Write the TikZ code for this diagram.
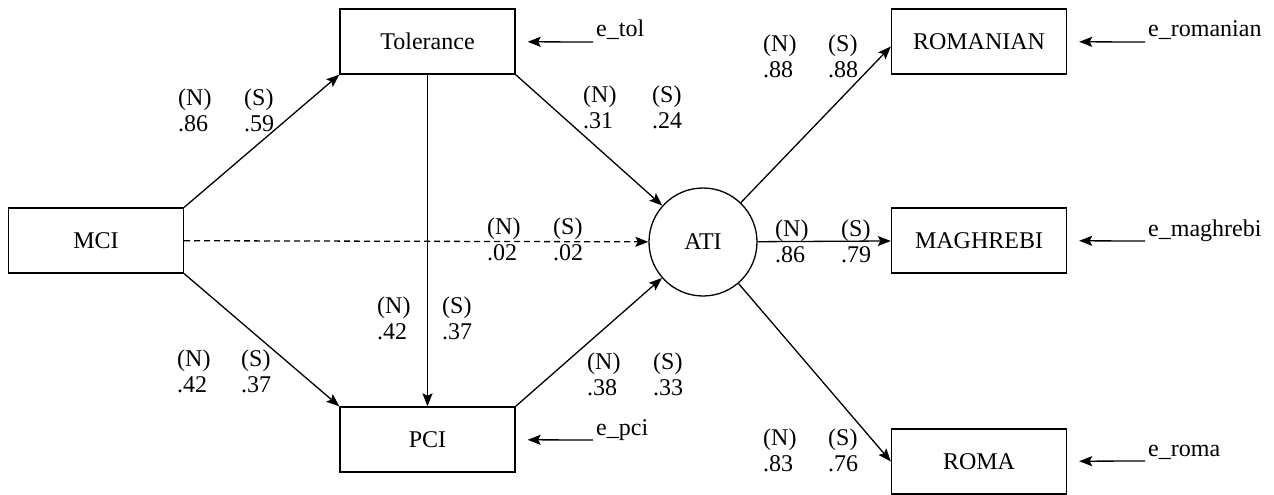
\documentclass[tikz,border=0pt]{standalone}
\usepackage{fontspec}
\setmainfont{Liberation Serif}
\newfontfamily\timesfont{Liberation Serif}
\usetikzlibrary{arrows.meta,calc}
\begin{document}
\begin{tikzpicture}[x=1pt,y=-1pt,
  txt/.style={font=\timesfont\fontsize{24}{26}\selectfont},
  box/.style={txt,draw,line width=1.3pt,minimum width=175pt,minimum height=65pt,inner sep=0pt},
  circ/.style={txt,draw,circle,line width=1.3pt,minimum size=108pt,inner sep=0pt},
  lbl/.style={txt,align=left,inner sep=0pt,anchor=west},
  elbl/.style={txt,inner sep=0pt,anchor=base west},
  conn/.style={line width=1.3pt,-{Stealth[length=13pt,width=10pt,inset=2.5pt]}},
  dconn/.style={conn,dash pattern=on 6pt off 4pt},
  err/.style={conn,shorten >=12pt}
]
\useasboundingbox (0,0) rectangle (1274,495);

% main nodes
\node[box] (MCI) at (96,240.5) {MCI};
\node[box] (TOL) at (427.5,41.5) {Tolerance};
\node[box] (PCI) at (427.5,439.5) {PCI};
\node[circ] (ATI) at (703,242) {ATI};
\node[box] (ROM) at (979,41.5) {ROMANIAN};
\node[box] (MAG) at (979,240.5) {MAGHREBI};
\node[box] (ROMA) at (979,461.5) {ROMA};

% paths
\draw[conn] (MCI.north east) -- (TOL.south west);
\draw[conn] (MCI.south east) -- (PCI.north west);
\draw[conn] (TOL) -- (PCI);
\draw[conn] (TOL.south east) -- (ATI);
\draw[conn] (PCI.north east) -- (ATI);
\draw[dconn] (MCI) -- (ATI);
\draw[conn] (ATI) -- ($(ROM.west)+(0,5)$);
\draw[conn] (ATI) -- (MAG);
\draw[conn] (ATI) -- (ROMA.west);

% error terms
\coordinate (etol) at (593,42);
\coordinate (epci) at (593,440);
\coordinate (erom) at (1145,42);
\coordinate (emag) at (1145,241);
\coordinate (eroma) at (1145,461);
\draw[err] (etol) -- (TOL);
\draw[err] (epci) -- (PCI);
\draw[err] (erom) -- (ROM);
\draw[err] (emag) -- (MAG);
\draw[err] (eroma) -- (ROMA);
\node[elbl] (letol) at ($(etol)+(3,-5)$) {e\_tol};
\node[elbl] (lepci) at ($(epci)+(3,-5)$) {e\_pci};
\node[elbl] (lerom) at ($(erom)+(3,-5)$) {e\_romanian};
\node[elbl] (lemag) at ($(emag)+(3,-5)$) {e\_maghrebi};
\node[elbl] (leroma) at ($(eroma)+(3,-5)$) {e\_roma};

% coefficients
\node[lbl] (n1) at (178,110.5) {(N)\\.86};
\node[lbl] (s1) at (244,110.5) {(S)\\.59};
\node[lbl] (n2) at (583,107.5) {(N)\\.31};
\node[lbl] (s2) at (652,107.5) {(S)\\.24};
\node[lbl] (n3) at (487,239) {(N)\\.02};
\node[lbl] (s3) at (553,239) {(S)\\.02};
\node[lbl] (n4) at (377,318.5) {(N)\\.42};
\node[lbl] (s4) at (442,318.5) {(S)\\.37};
\node[lbl] (n5) at (177,371) {(N)\\.42};
\node[lbl] (s5) at (241,371) {(S)\\.37};
\node[lbl] (n6) at (587,374.5) {(N)\\.38};
\node[lbl] (s6) at (653,374.5) {(S)\\.33};
\node[lbl] (n7) at (763,56) {(N)\\.88};
\node[lbl] (s7) at (828,56) {(S)\\.88};
\node[lbl] (n8) at (775,241.5) {(N)\\.86};
\node[lbl] (s8) at (841,241.5) {(S)\\.79};
\node[lbl] (n9) at (763,450) {(N)\\.83};
\node[lbl] (s9) at (828,450) {(S)\\.76};
\end{tikzpicture}
\end{document}
